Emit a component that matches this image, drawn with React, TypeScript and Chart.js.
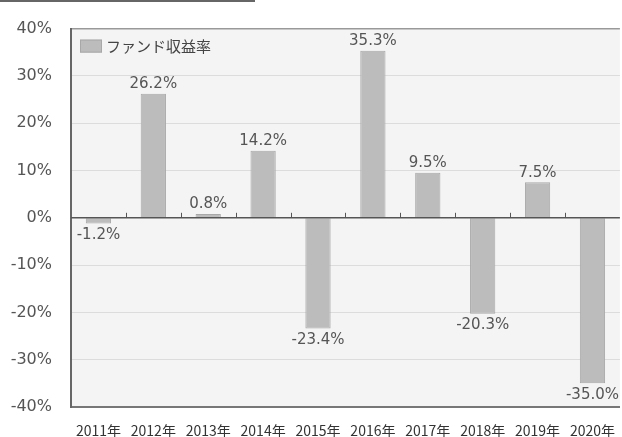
import React, { useEffect, useRef } from "react";
import { Chart, registerables } from "chart.js";

Chart.register(...registerables);

const categories = ["2011年", "2012年", "2013年", "2014年", "2015年", "2016年", "2017年", "2018年", "2019年", "2020年"];
const fundReturns = [-1.2, 26.2, 0.8, 14.2, -23.4, 35.3, 9.5, -20.3, 7.5, -35.0];
const seriesName = "ファンド収益率";
const yMin = -40;
const yMax = 40;
const yStep = 10;

const FONT = "'Noto Sans CJK JP', 'Noto Sans', sans-serif";
const NUMFONT = "'DejaVu Sans', 'Noto Sans', sans-serif";

const customPlugin = {
  id: "custom",
  beforeDraw(chart: any) {
    const { ctx, chartArea: a } = chart;
    ctx.save();
    ctx.fillStyle = "#f4f4f4";
    ctx.fillRect(a.left, a.top, a.right - a.left, a.bottom - a.top);
    ctx.restore();
  },
  afterDatasetsDraw(chart: any) {
    const { ctx, chartArea: a, scales } = chart;
    const y0 = scales.y.getPixelForValue(0);
    ctx.save();
    // zero line
    ctx.strokeStyle = "#555";
    ctx.lineWidth = 1.5;
    ctx.beginPath();
    ctx.moveTo(a.left, y0);
    ctx.lineTo(a.right, y0);
    ctx.stroke();
    // ticks at category boundaries
    ctx.lineWidth = 1;
    const n = categories.length;
    for (let i = 1; i < n; i++) {
      const x = Math.round((scales.x.getPixelForValue(i - 1) + scales.x.getPixelForValue(i)) / 2) + 0.5;
      ctx.beginPath();
      ctx.moveTo(x, y0);
      ctx.lineTo(x, y0 - 5);
      ctx.stroke();
    }
    // data labels
    const meta = chart.getDatasetMeta(0);
    ctx.font = `15px ${NUMFONT}`;
    ctx.fillStyle = "#555";
    ctx.textAlign = "center";
    meta.data.forEach((bar: any, i: number) => {
      const v = fundReturns[i];
      const label = v.toFixed(1) + "%";
      if (v >= 0) {
        ctx.textBaseline = "bottom";
        ctx.fillText(label, bar.x, bar.y - 2);
      } else {
        ctx.textBaseline = "top";
        ctx.fillText(label, bar.x, bar.y + 4);
      }
    });
    // legend
    ctx.fillStyle = "#bcbcbc";
    ctx.fillRect(a.left + 9, a.top + 11, 22, 13);
    ctx.strokeStyle = "#a8a8a8";
    ctx.strokeRect(a.left + 9.5, a.top + 11.5, 21, 12);
    ctx.fillStyle = "#444";
    ctx.font = `15px ${FONT}`;
    ctx.textAlign = "left";
    ctx.textBaseline = "middle";
    ctx.fillText(seriesName, a.left + 35, a.top + 18);
    ctx.restore();
  },
};

export default function App() {
  const ref = useRef<HTMLCanvasElement>(null);
  useEffect(() => {
    document.body.style.margin = "0";
    const chart = new Chart(ref.current!, {
      type: "bar",
      data: {
        labels: categories,
        datasets: [
          {
            label: seriesName,
            data: fundReturns,
            backgroundColor: "#bcbcbc",
            borderColor: "#a8a8a8",
            borderWidth: 1,
            barPercentage: 0.46,
            categoryPercentage: 1,
          },
        ],
      },
      options: {
        animation: false,
        responsive: false,
        maintainAspectRatio: false,
        layout: { padding: { top: 21, right: 0, left: 0, bottom: 0 } },
        plugins: { legend: { display: false }, tooltip: { enabled: false } },
        scales: {
          x: {
            grid: { display: false },
            border: { display: true, color: "#777", width: 2 },
            ticks: { font: { family: FONT, size: 14 }, color: "#333", padding: 7, maxRotation: 0, autoSkip: false },
            afterFit: (s: any) => {
              s.height = 30;
            },
          },
          y: {
            min: yMin,
            max: yMax,
            grid: {
              drawTicks: false,
              color: (c: any) => (c.tick && c.tick.value === yMax ? "#999" : c.tick && c.tick.value === 0 ? "rgba(0,0,0,0)" : "#dcdcdc"),
              lineWidth: (c: any) => (c.tick && c.tick.value === yMax ? 1.5 : 1),
            },
            border: { display: true, color: "#666", width: 2 },
            ticks: {
              stepSize: yStep,
              padding: 19,
              font: { family: NUMFONT, size: 16 },
              color: "#555",
              callback: (v: any) => v + "%",
            },
            afterFit: (s: any) => {
              s.width = 71;
            },
          },
        },
      },
      plugins: [customPlugin],
    });
    return () => chart.destroy();
  }, []);
  return (
    <div style={{ position: "relative", width: 622, height: 437, background: "#fff" }}>
      <div style={{ position: "absolute", left: 0, top: 0, width: 255, height: 2, background: "#666" }} />
      <canvas ref={ref} width={622} height={437} style={{ position: "absolute", left: 0, top: 0 }} />
    </div>
  );
}
